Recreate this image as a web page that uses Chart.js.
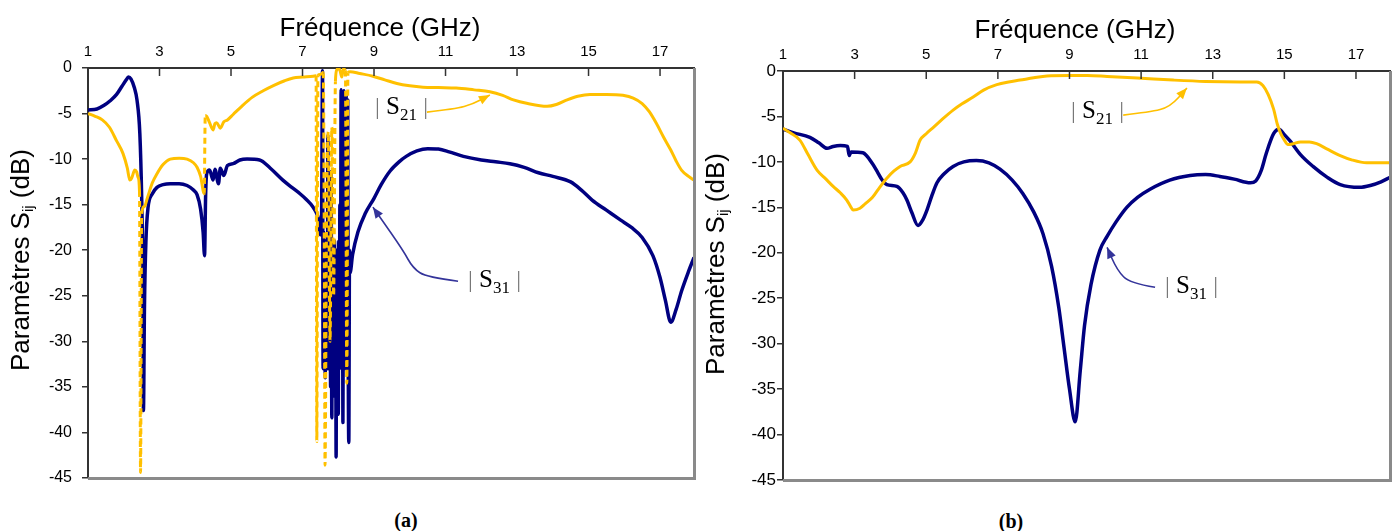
<!DOCTYPE html>
<html>
<head>
<meta charset="utf-8">
<script src="https://cdn.jsdelivr.net/npm/chart.js@4.4.0/dist/chart.umd.min.js"></script>
<style>
    body { margin: 0; width: 1400px; height: 531px; background: #fff; position: relative; overflow: hidden;
           font-family: "Liberation Sans", Arial, sans-serif; color: #000; }
    .panel { position: absolute; top: 0; width: 700px; height: 500px; }
    .xtitle, .ytitle { position: absolute; font-size: 26px; white-space: nowrap; line-height: 1; }
    .xtitle { transform: translate(-50%, -50%); }
    .ytitle { transform: translate(-50%, -50%) rotate(-90deg); }
    .ytitle sub { font-size: 15px; vertical-align: -4px; }
    .note { position: absolute; font-family: "Liberation Serif", "Times New Roman", serif; font-size: 25px;
            line-height: 1; white-space: nowrap; transform: translateY(-50%); }
    .note .bar { color: #777; font-size: 24px; }
    .note sub { font-size: 17px; vertical-align: -6px; }
    .caption { position: absolute; font-family: "Liberation Serif", "Times New Roman", serif; font-weight: bold;
               font-size: 20px; line-height: 1; transform: translate(-50%, -50%); }
</style>
</head>
<body>

<div class="panel" style="left:0"><canvas id="chartA" width="700" height="500"></canvas></div>
<div class="panel" style="left:700px"><canvas id="chartB" width="700" height="500"></canvas></div>

<div class="xtitle" style="left:380px; top:27px">Fréquence (GHz)</div>
<div class="xtitle" style="left:1075px; top:29px">Fréquence (GHz)</div>
<div class="ytitle" style="left:21px; top:260px">Paramètres S<sub>ij</sub> (dB)</div>
<div class="ytitle" style="left:716px; top:264px">Paramètres S<sub>ij</sub> (dB)</div>

<div class="note" style="left:375px; top:108px"><span class="bar">|</span> S<sub>21</sub> <span class="bar">|</span></div>
<div class="note" style="left:468px; top:281px"><span class="bar">|</span> S<sub>31</sub> <span class="bar">|</span></div>
<div class="note" style="left:1071px; top:112px"><span class="bar">|</span> S<sub>21</sub> <span class="bar">|</span></div>
<div class="note" style="left:1165px; top:287px"><span class="bar">|</span> S<sub>31</sub> <span class="bar">|</span></div>

<div class="caption" style="left:406px; top:520px">(a)</div>
<div class="caption" style="left:1011px; top:521px">(b)</div>

<script>
// Axis ticks
const freqTicks = [1, 3, 5, 7, 9, 11, 13, 15, 17];
const dbTicks = [0, -5, -10, -15, -20, -25, -30, -35, -40, -45];

// (a) |S31|
const aS31Freq = [1.0, 1.25, 1.45, 1.62, 1.8, 1.95, 2.07, 2.13, 2.2, 2.3, 2.37, 2.45, 2.5, 2.53, 2.55, 2.58, 2.62, 2.68,
    2.8, 2.93, 3.1, 3.3, 3.55, 3.77, 3.95, 4.05, 4.15, 4.22, 4.26, 4.29, 4.32, 4.4, 4.5, 4.55, 4.65, 4.7, 4.8, 4.9,
    5.06, 5.25, 5.45, 5.8, 6.1, 6.45, 6.7, 6.93, 7.1, 7.3, 7.45, 7.5, 7.53,
    7.56, 7.575, 7.59, 7.605, 7.62, 7.635, 7.65, 7.665, 7.68, 7.695, 7.71, 7.725, 7.74, 7.755, 7.77, 7.785, 7.8,
    7.82, 7.835, 7.85, 7.865, 7.88, 7.895, 7.91, 7.925, 7.94, 7.955, 7.97, 7.985, 8.0, 8.015, 8.03, 8.045, 8.06,
    8.08, 8.1, 8.115, 8.13, 8.145, 8.16, 8.175, 8.19, 8.205, 8.22, 8.235, 8.25, 8.265, 8.28, 8.295, 8.315, 8.33,
    8.4, 8.55, 8.75, 9.0, 9.2, 9.45, 9.7, 9.9, 10.2, 10.5,
    10.8, 11.1, 11.5, 12.0, 12.4, 12.8, 13.2, 13.6, 14.0, 14.5, 14.8, 15.1, 15.5, 15.9, 16.2, 16.5, 16.8, 17.0,
    17.15, 17.3, 17.45, 17.6, 17.8, 17.95];
const aS31dB = [-4.6, -4.5, -4.1, -3.6, -2.9, -2.0, -1.3, -1.0, -1.2, -2.2, -3.5, -7.2, -14, -22, -37.6, -26, -19, -15.3,
    -13.8, -13.1, -12.8, -12.7, -12.7, -12.9, -13.4, -13.9, -15.5, -18, -20.6, -14, -11.6, -11.2, -12.3, -11.1, -12.7, -11.0, -11.8, -10.7,
    -10.5, -10.1, -10.0, -10.1, -11.0, -12.3, -13.1, -13.8, -14.4, -15.3, -16.7, -18.3, -17.5,
    -0.3, -33, -18, -31, -20, -34, -19, -30, -22, -33, -7.4, -33, -18, -32, -20, -35, -11.4,
    -38.4, -20, -33, -22, -36, -19, -33, -22, -42.7, -20, -33, -24, -38, -19, -33, -15, -30,
    -2.4, -33, -3, -38.9, -20, -2.5, -32, -10, -33, -3.0, -30, -22, -3.5, -33, -41.1, -20, -22.5,
    -20.5, -18, -16, -14.3, -12.8, -11.3, -10.3, -9.7, -9.1, -8.85,
    -8.9, -9.2, -9.7, -10.1, -10.3, -10.5, -10.9, -11.5, -11.9, -12.5, -13.4, -14.5, -15.6, -16.7, -17.5, -18.6, -20.6, -23,
    -25.5, -27.9, -26.5, -24.5, -22.3, -20.8];

// (a) |S21|
const aS21Freq = [1.0, 1.2, 1.4, 1.6, 1.8, 1.98, 2.1, 2.17, 2.22, 2.31, 2.36, 2.4, 2.44, 2.47, 2.5, 2.58, 2.65, 2.8,
    2.93, 3.1, 3.3, 3.55, 3.77, 3.95, 4.05, 4.15, 4.25, 4.28, 4.32, 4.4, 4.5, 4.55, 4.6, 4.7, 4.8, 4.9, 5.06, 5.3,
    5.6, 5.9, 6.2, 6.5, 6.74, 7.0, 7.3, 7.38, 7.4, 7.43, 7.5, 7.58, 7.61, 7.63, 7.67, 7.72, 7.77, 7.82, 7.87, 7.92,
    7.96, 8.0, 8.05, 8.1, 8.14, 8.2, 8.24, 8.27, 8.33, 8.6, 8.97, 9.3, 9.64, 10.0, 10.37, 10.8, 11.3, 11.8, 12.24,
    12.6, 12.9, 13.3, 13.84, 14.1, 14.4, 14.7, 15.04, 15.5, 15.96, 16.25, 16.5, 16.7, 16.9, 17.1, 17.3, 17.45, 17.6,
    17.8, 17.95];
const aS21dB = [-5.0, -5.3, -5.7, -6.5, -8.0, -9.4, -11, -12.3, -12.1, -11.2, -11.4, -12.0, -13.5, -44.4, -16, -15.2, -14.4, -12.6,
    -11.6, -10.6, -10.0, -9.9, -10.0, -10.4, -10.9, -11.9, -13.8, -5.2, -5.3, -6.0, -6.8, -6.1, -6.0, -6.6, -5.9, -5.7, -5.1, -4.2,
    -3.2, -2.5, -1.9, -1.4, -1.1, -1.0, -0.9, -0.85, -41, -0.8, -0.7, -0.5, -20, -43.6, -18, -7.0, -30, -6.5, -25, -1.5,
    -0.2, 0, -0.3, -1.0, -0.1, -0.3, -34.6, -0.5, -0.4, -0.6, -0.9, -1.3, -1.7, -1.95, -2.1, -2.15, -2.2, -2.4, -2.6,
    -3.0, -3.5, -3.9, -4.2, -4.0, -3.5, -3.1, -2.9, -2.9, -3.0, -3.3, -3.9, -4.8, -6.1, -7.6, -9.0, -10.2, -11.2,
    -11.9, -12.3];

// (b) |S31|
const bS31Freq = [1.0, 1.3, 1.75, 2.0, 2.23, 2.4, 2.6, 2.8, 2.85, 2.9, 3.23, 3.5, 3.65, 3.77, 3.9, 4.18, 4.35, 4.46, 4.6,
    4.77, 4.9, 5.02, 5.15, 5.3, 5.5, 5.75, 6.05, 6.4, 6.75, 7.06, 7.4, 7.7, 8.0, 8.26, 8.5, 8.7, 8.85, 9.0, 9.16,
    9.3, 9.42, 9.6, 9.85, 10.05, 10.3, 10.6, 10.9, 11.25, 11.8, 12.37, 12.8, 13.2, 13.6, 14.05, 14.2, 14.35, 14.5,
    14.7, 14.85, 15.0, 15.16, 15.45, 15.8, 16.2, 16.56, 17.1, 17.4, 17.7, 17.95];
const bS31dB = [-6.4, -6.8, -7.3, -7.9, -8.5, -8.3, -8.2, -8.3, -9.3, -8.9, -9.0, -10.2, -11.2, -12.0, -12.5, -12.7, -13.4, -14.2, -15.6,
    -17.0, -16.4, -15.3, -13.8, -12.3, -11.3, -10.5, -10.0, -9.85, -10.1, -10.8, -12.0, -13.5, -15.5, -17.9, -21.5, -26, -30.5, -35, -38.6,
    -33, -28, -23.5, -19.7, -18.2, -16.6, -15.0, -13.9, -13.0, -12.0, -11.5, -11.4, -11.6, -11.9, -12.3, -12.1, -11.0, -9.0,
    -6.9, -6.4, -7.0, -7.7, -9.2, -10.5, -11.7, -12.5, -12.8, -12.6, -12.2, -11.7];

// (b) |S21|
const bS21Freq = [1.0, 1.2, 1.47, 1.7, 1.95, 2.2, 2.4, 2.6, 2.78, 2.9, 2.96, 3.15, 3.3, 3.5, 3.7, 3.9, 4.1, 4.27, 4.55,
    4.7, 4.83, 5.0, 5.2, 5.45, 5.75, 6.0, 6.3, 6.6, 6.97, 7.3, 7.62, 8.0, 8.37, 9.0, 9.5, 10.05, 11.0, 11.9, 12.8,
    13.77, 14.23, 14.4, 14.55, 14.7, 14.8, 14.9, 15.0, 15.1, 15.25, 15.45, 15.7, 15.9, 16.2, 16.56, 16.9, 17.3,
    17.6, 17.95];
const bS21dB = [-6.3, -6.8, -7.6, -9.2, -10.9, -11.9, -12.7, -13.4, -14.2, -15.0, -15.3, -15.1, -14.6, -13.9, -12.8, -11.8, -11.0, -10.5, -10.0,
    -9.0, -7.6, -6.9, -6.2, -5.3, -4.3, -3.6, -2.9, -2.1, -1.5, -1.2, -1.0, -0.75, -0.55, -0.5, -0.5, -0.6, -0.8, -1.0, -1.15,
    -1.2, -1.2, -1.6, -2.6, -4.2, -5.8, -6.9, -7.6, -8.1, -8.0, -7.8, -7.8, -8.0, -8.6, -9.3, -9.8, -10.1,
    -10.1, -10.1];

const navy = '#000080';
const gold = '#FFC000';

function points(xs, ys) {
    return xs.map((x, i) => ({ x: x, y: ys[i] }));
}

// steep, nearly vertical jumps of |S21| are drawn dashed
function steepDash(c) {
    const dx = Math.abs(c.p1.parsed.x - c.p0.parsed.x);
    const dy = Math.abs(c.p1.parsed.y - c.p0.parsed.y);
    return (dy > 6 && dx < 0.08) ? [6, 4] : undefined;
}

// inward ticks on the top axis, grey frame on right and bottom, annotation arrows
const framePlugin = {
    id: 'frame',
    afterDraw(chart, args, opts) {
        const { ctx, chartArea: a, scales: { x, y } } = chart;
        ctx.save();
        ctx.strokeStyle = '#333';
        ctx.lineWidth = 1.5;
        x.ticks.forEach(t => {
            const px = x.getPixelForValue(t.value);
            if (px <= a.left + 2) return;
            ctx.beginPath();
            ctx.moveTo(px, a.top);
            ctx.lineTo(px, a.top + 8);
            ctx.stroke();
        });
        ctx.strokeStyle = '#8a8a8a';
        ctx.lineWidth = 3;
        ctx.beginPath();
        ctx.moveTo(a.left, a.bottom + 0.5);
        ctx.lineTo(a.right + 0.5, a.bottom + 0.5);
        ctx.lineTo(a.right + 0.5, a.top);
        ctx.stroke();

        (opts.arrows || []).forEach(ar => {
            const pts = ar.path.map(p => [x.getPixelForValue(p[0]), y.getPixelForValue(p[1])]);
            ctx.strokeStyle = ar.color;
            ctx.fillStyle = ar.color;
            ctx.lineWidth = 1.6;
            ctx.lineJoin = 'round';
            ctx.beginPath();
            ctx.moveTo(pts[0][0], pts[0][1]);
            for (let i = 1; i < pts.length - 1; i++) {
                const mx = (pts[i][0] + pts[i + 1][0]) / 2;
                const my = (pts[i][1] + pts[i + 1][1]) / 2;
                ctx.quadraticCurveTo(pts[i][0], pts[i][1], mx, my);
            }
            const tip = pts[pts.length - 1];
            const prev = pts[pts.length - 2];
            ctx.lineTo(tip[0], tip[1]);
            ctx.stroke();
            const ang = Math.atan2(tip[1] - prev[1], tip[0] - prev[0]);
            ctx.beginPath();
            ctx.moveTo(tip[0], tip[1]);
            ctx.lineTo(tip[0] - 11 * Math.cos(ang) + 4.5 * Math.sin(ang), tip[1] - 11 * Math.sin(ang) - 4.5 * Math.cos(ang));
            ctx.lineTo(tip[0] - 11 * Math.cos(ang) - 4.5 * Math.sin(ang), tip[1] - 11 * Math.sin(ang) + 4.5 * Math.cos(ang));
            ctx.closePath();
            ctx.fill();
        });
        ctx.restore();
    }
};

function makeChart(id, s21, s31, geo, arrows) {
    return new Chart(document.getElementById(id), {
        type: 'line',
        data: {
            datasets: [{
                label: '|S21|',
                data: s21,
                borderColor: gold,
                borderWidth: 3,
                segment: { borderDash: steepDash }
            }, {
                label: '|S31|',
                data: s31,
                borderColor: navy,
                borderWidth: 3.5
            }]
        },
        options: {
            responsive: false,
            animation: false,
            devicePixelRatio: 1,
            layout: { padding: { left: 0, top: 0, right: geo.padRight, bottom: geo.padBottom } },
            elements: {
                point: { radius: 0 },
                line: { cubicInterpolationMode: 'monotone', borderCapStyle: 'butt', borderJoinStyle: 'round' }
            },
            plugins: {
                legend: { display: false },
                tooltip: { enabled: false },
                frame: { arrows: arrows }
            },
            scales: {
                x: {
                    type: 'linear',
                    position: 'top',
                    min: 1,
                    max: 17.95,
                    afterBuildTicks: s => { s.ticks = freqTicks.map(v => ({ value: v })); },
                    afterFit: s => { s.height = geo.top; },
                    grid: { drawOnChartArea: false, drawTicks: false },
                    border: { display: true, color: '#333', width: 2 },
                    ticks: {
                        padding: 7,
                        color: '#000',
                        maxRotation: 0,
                        autoSkip: false,
                        font: { family: 'Liberation Sans', size: 15 }
                    }
                },
                y: {
                    min: -45,
                    max: 0,
                    afterBuildTicks: s => { s.ticks = dbTicks.map(v => ({ value: v })); },
                    afterFit: s => { s.width = geo.left; },
                    grid: { drawOnChartArea: false, drawTicks: true, tickLength: 6, color: '#333', lineWidth: 1.5 },
                    border: { display: true, color: '#333', width: 2 },
                    ticks: {
                        padding: geo.labelPad,
                        color: '#000',
                        autoSkip: false,
                        font: { family: 'Liberation Sans', size: geo.labelSize }
                    }
                }
            }
        },
        plugins: [framePlugin]
    });
}

makeChart('chartA', points(aS21Freq, aS21dB), points(aS31Freq, aS31dB),
    { left: 88, top: 68, padRight: 6, padBottom: 22, labelPad: 10, labelSize: 16 },
    [
        { color: gold, path: [[10.48, -4.84], [11.27, -4.5], [11.77, -3.96], [12.24, -2.97]] },
        { color: '#34349a', path: [[11.35, -23.4], [10.48, -22.97], [10.09, -21.98], [9.81, -20.0], [9.17, -16.4], [8.97, -15.27]] }
    ]);

makeChart('chartB', points(bS21Freq, bS21dB), points(bS31Freq, bS31dB),
    { left: 83, top: 71, padRight: 10, padBottom: 20, labelPad: 1, labelSize: 17 },
    [
        { color: gold, path: [[10.5, -4.85], [11.25, -4.52], [11.81, -3.96], [12.28, -1.87]] },
        { color: '#34349a', path: [[11.39, -23.79], [10.69, -23.35], [10.33, -21.92], [10.05, -19.4]] }
    ]);
</script>
</body>
</html>
